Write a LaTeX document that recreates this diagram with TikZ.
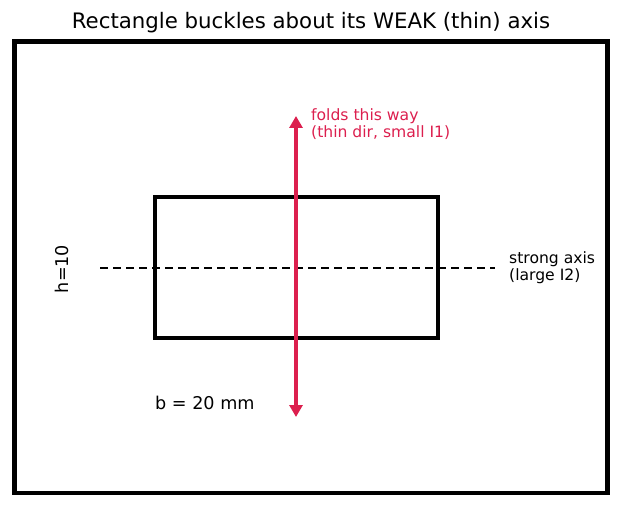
\documentclass[tikz,border=0pt]{standalone}
\usepackage{fontspec}
\setmainfont{DejaVu Sans}
\usetikzlibrary{arrows.meta}
\definecolor{foldred}{HTML}{DC1F4E}
\tikzset{
  frame/.style={line width=4.4pt},
  section/.style={line width=3.8pt},
  axisline/.style={line width=2.4pt, dash pattern=on 8pt off 5pt},
  foldarrow/.style={foldred, line width=4pt, {Triangle[length=12pt,width=13pt]}-{Triangle[length=12pt,width=13pt]}},
  lbl/.style={inner sep=0pt, font=\fontsize{17.6}{20}\selectfont},
  small/.style={inner sep=0pt, align=left, font=\fontsize{15.6}{17}\selectfont}
}
\begin{document}
\begin{tikzpicture}[x=1pt,y=-1pt]
\useasboundingbox (0,0) rectangle (622,508);

\node [inner sep=0pt, font=\fontsize{21.3}{24}\selectfont] (title) at (311,23) {Rectangle buckles about its WEAK (thin) axis};
\draw [frame] (14.5,41.5) rectangle (607.5,493);

% cross section
\draw [section] (155,197) rectangle (438,338);

% strong axis
\coordinate (axL) at (100,268);
\coordinate (axR) at (495,268);
\draw [axisline] (axL) -- (axR);
\node [small, anchor=west] (strong) at (509,268) {strong axis\\(large I2)};

% fold direction
\coordinate (foldB) at (296,417);
\coordinate (foldT) at (296,116);
\draw [foldarrow] (foldB) -- (foldT);
\node [small, anchor=west, text=foldred] (folds) at (311,124) {folds this way\\(thin dir, small I1)};

\node [lbl, rotate=90] (hlbl) at (62,269) {h=10};
\node [lbl, anchor=west] (blbl) at (155,403) {b = 20 mm};
\end{tikzpicture}
\end{document}
